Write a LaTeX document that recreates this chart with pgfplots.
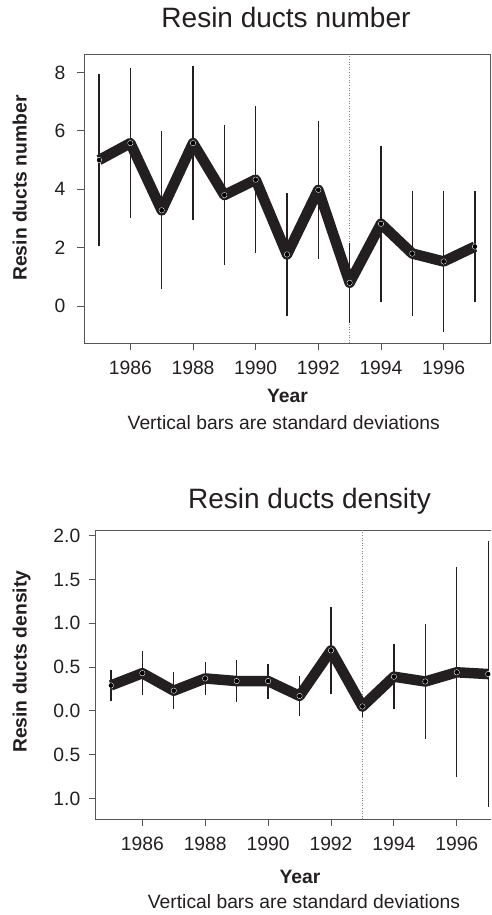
\documentclass[border=0pt]{standalone}
\usepackage{pgfplots}
\pgfplotsset{compat=1.18}
\usepackage{pgfplotstable}
\usepackage{fontspec}
\setmainfont{Liberation Sans}
\definecolor{ink}{HTML}{231F20}
\definecolor{frame}{HTML}{555555}
\newcommand{\fs}{\fontsize{19.3}{22}\selectfont}
\newcommand{\ft}{\fontsize{28}{32}\selectfont}

\pgfplotstableread{
year mean sd
1985 5.00 2.95
1986 5.58 2.56
1987 3.28 2.70
1988 5.58 2.63
1989 3.80 2.40
1990 4.33 2.52
1991 1.77 2.10
1992 3.98 2.35
1993 0.80 1.37
1994 2.82 2.67
1995 1.80 2.13
1996 1.53 2.42
1997 2.04 1.91
}\topdata

\pgfplotstableread{
year mean sd
1985 0.29 0.18
1986 0.43 0.25
1987 0.23 0.21
1988 0.37 0.19
1989 0.34 0.235
1990 0.34 0.20
1991 0.17 0.226
1992 0.69 0.50
1993 0.05 0.125
1994 0.39 0.37
1995 0.335 0.66
1996 0.44 1.20
1997 0.42 1.52
}\botdata

\pgfplotsset{
  rstyle/.style={
    scale only axis,
    axis line style={frame, line width=0.9pt},
    tick style={frame, line width=0.9pt},
    major tick length=7pt,
    tick align=outside,
    xtick pos=bottom, ytick pos=left,
    xmin=1984.52, xmax=1997.48,
    xtick={1986,1988,1990,1992,1994,1996},
    xticklabels={1986,1988,1990,1992,1994,1996},
    ticklabel style={font=\fs, text=ink},
    xticklabel style={yshift=-7pt},
    clip=true,
  },
  errstyle/.style={only marks, mark=none, forget plot,
    error bars/.cd, y dir=both, y explicit, error mark=none,
    error bar style={line width=1.3pt, ink}},
  meanstyle/.style={ink, line width=10.5pt, line join=round, line cap=butt,
    mark=o, mark size=2.6pt, mark options={draw=white, line width=0.5pt}},
}

\begin{document}
\begin{tikzpicture}
\useasboundingbox (0pt,0pt) rectangle (491pt,915pt);
\begin{scope}
\clip (0pt,0pt) rectangle (491pt,915pt);

% ---------- top panel ----------
\begin{axis}[rstyle, at={(84pt,572pt)}, anchor=south west,
  width=406pt, height=289pt,
  ymin=-1.26, ymax=8.63,
  yticklabel style={xshift=-8pt},
  ytick={0,2,4,6,8}, yticklabels={0,2,4,6,8}]
\addplot[gray, dotted, line width=0.6pt, forget plot] coordinates {(1993,-1.26) (1993,8.63)};
\addplot[meanstyle] table[x=year, y=mean] {\topdata};
\addplot[errstyle] table[x=year, y=mean, y error=sd] {\topdata};
\end{axis}

% ---------- bottom panel ----------
\begin{axis}[rstyle, at={(95.8pt,96pt)}, anchor=south west,
  width=407.5pt, height=289pt,
  ymin=-1.235, ymax=2.065,
  yticklabel style={xshift=-5pt},
  ytick={-1,-0.5,0,0.5,1,1.5,2},
  yticklabels={1.0,0.5,0.0,0.5,1.0,1.5,2.0}]
\addplot[gray, dotted, line width=0.6pt, forget plot] coordinates {(1993,-1.235) (1993,2.065)};
\addplot[meanstyle] table[x=year, y=mean] {\botdata};
\addplot[errstyle] table[x=year, y=mean, y error=sd] {\botdata};
\end{axis}

% ---------- texts ----------
\node[anchor=base, inner sep=0pt, text=ink, font=\ft] at (286pt,887.3pt) {Resin ducts number};
\node[anchor=base, inner sep=0pt, text=ink, font=\fs\bfseries] at (287.5pt,512pt) {Year};
\node[anchor=base, inner sep=0pt, text=ink, font=\fs] at (283.8pt,485pt) {Vertical bars are standard deviations};
\node[anchor=base, inner sep=0pt, text=ink, font=\fs\bfseries, rotate=90] at (26.7pt,727pt) {Resin ducts number};

\node[anchor=base, inner sep=0pt, text=ink, font=\ft] at (309.5pt,406.7pt) {Resin ducts density};
\node[anchor=base, inner sep=0pt, text=ink, font=\fs\bfseries] at (300pt,31.7pt) {Year};
\node[anchor=base, inner sep=0pt, text=ink, font=\fs] at (304pt,6.7pt) {Vertical bars are standard deviations};
\node[anchor=base, inner sep=0pt, text=ink, font=\fs\bfseries, rotate=90] at (26.7pt,253.3pt) {Resin ducts density};
\end{scope}
\end{tikzpicture}
\end{document}
